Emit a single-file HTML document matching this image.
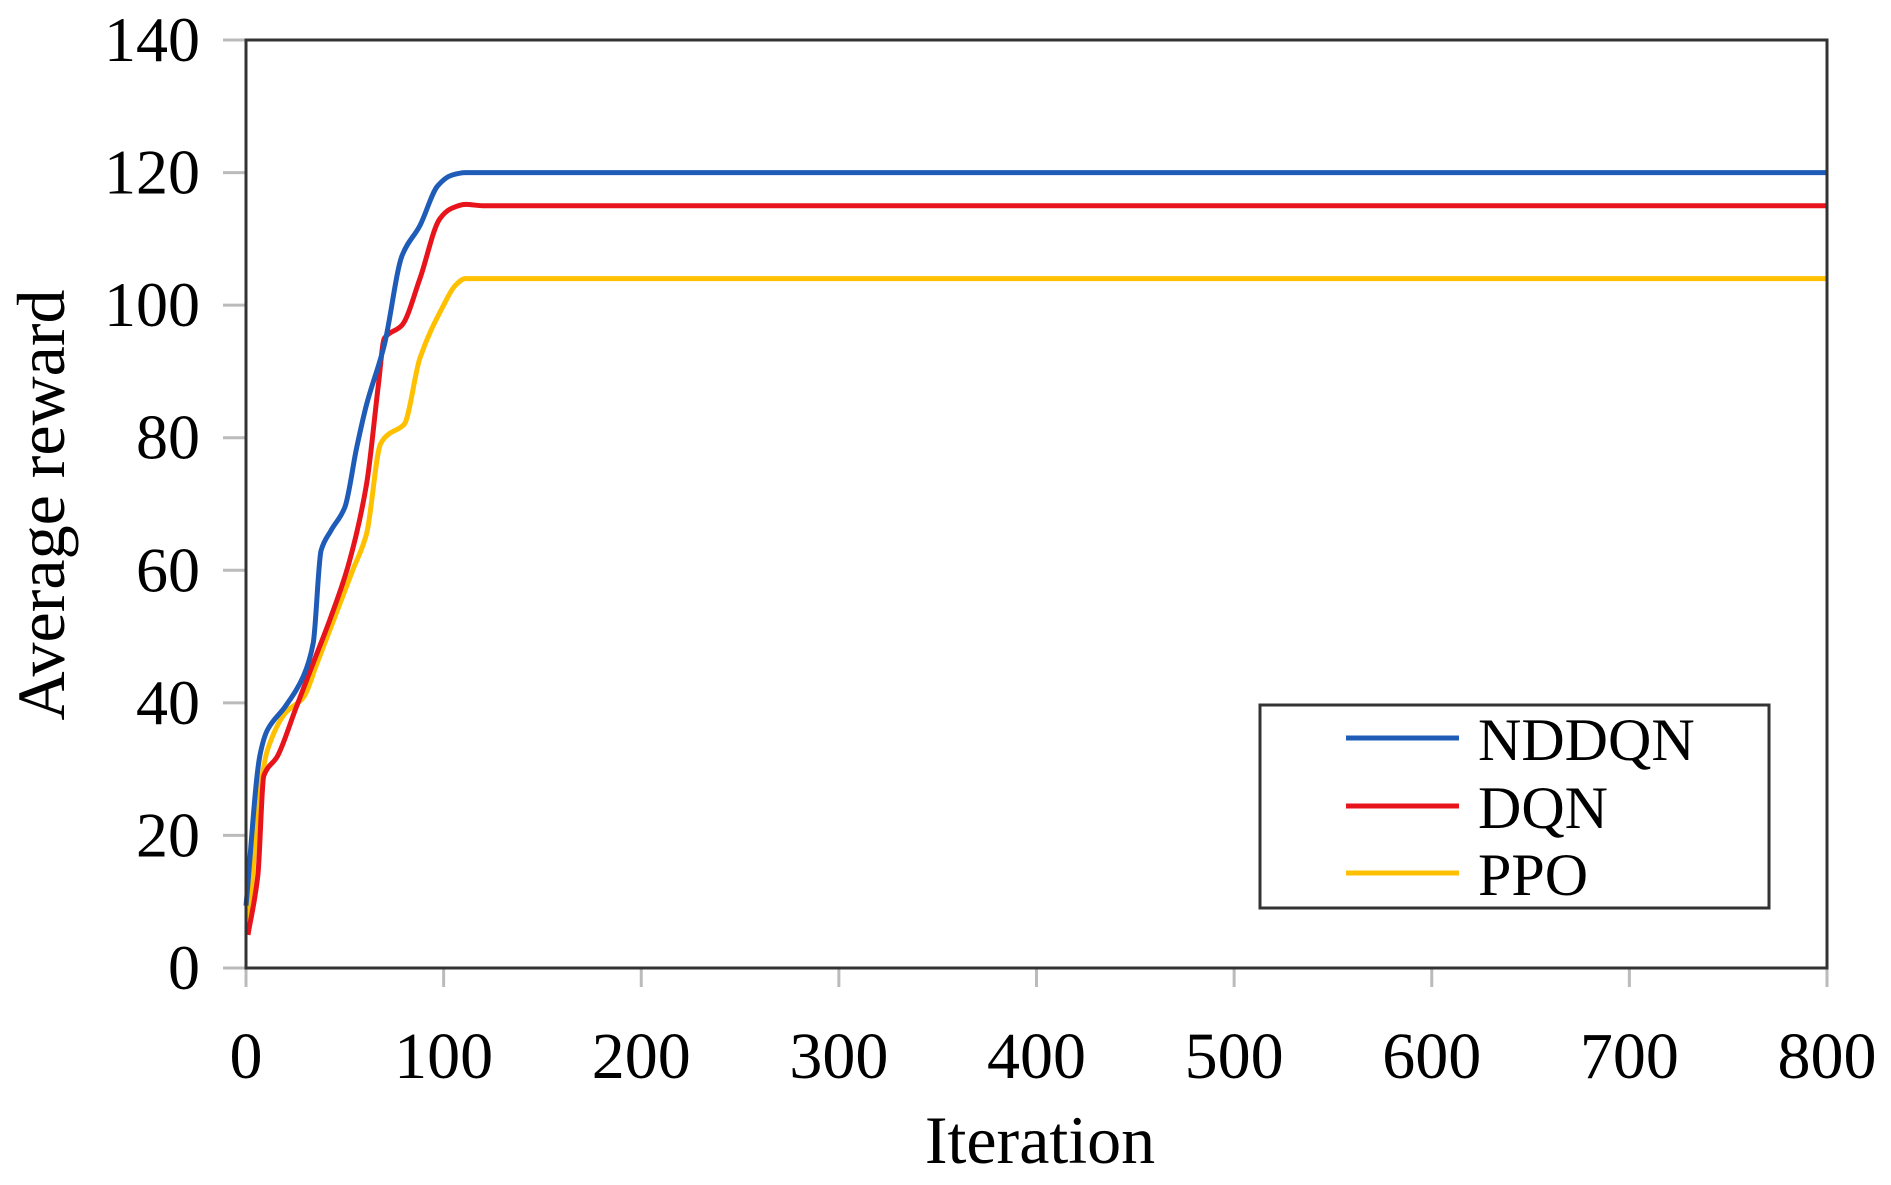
<!DOCTYPE html>
<html><head><meta charset="utf-8"><style>
html,body{margin:0;padding:0;background:#fff;}
svg{display:block;font-family:"Liberation Serif",serif;}
</style></head><body>
<svg id="chart" width="1891" height="1185" viewBox="0 0 1891 1185">
<g id="grid"></g><g id="series"></g><g id="axes"></g>
</svg>
<script>
const xTicks=[0,100,200,300,400,500,600,700,800];
const yTicks=[0,20,40,60,80,100,120,140];
const seriesNames=["NDDQN","DQN","PPO"];
const seriesColors=["#1f5cb8","#e8141c","#ffc000"];
const nddqnX=[0,7,11,20,29,34,38,43,50,56,61,70,79,88,97,104,111,120,800];
const nddqnY=[9.4,32,36,39.5,44,49,63,66,69.5,78.5,85,94,107.5,112,118,119.6,120,120,120];
const dqnX=[1,6,9,16,25,34,43,52,61,67,70,79,88,98,104,111,120,800];
const dqnY=[5,14,29,32,39,46,53,61,73,88,95,97,104,113,114.6,115.2,115,115];
const ppoX=[1,7,11,20,29,36,45,54,61,68,72,80,88,100,106,111,120,800];
const ppoY=[5,26.5,33,38.5,40.8,46,53,60,65.5,79,80.5,82,92,100,103,104,104,104];

const L=246,R=1827,T=40,B=968;
const sx=v=>L+(v-0)/(800-0)*(R-L);
const sy=v=>B-(v-0)/(140-0)*(B-T);
const NS="http://www.w3.org/2000/svg";
function mk(tag,attrs,parent){const e=document.createElementNS(NS,tag);for(const k in attrs)e.setAttribute(k,attrs[k]);parent.appendChild(e);return e;}
const axes=document.getElementById('axes'),ser=document.getElementById('series');

xTicks.forEach(t=>{
  const ln=mk('line',{x1:sx(t),x2:sx(t),y1:B,y2:B+19,stroke:'#bbb','stroke-width':3},axes);
  
  
  const tx=mk('text',{x:sx(t),y:1078,'text-anchor':'middle','font-size':66,fill:'#000'},axes);
  tx.textContent=t;
  
  
});
yTicks.forEach(t=>{
  const ln=mk('line',{x1:L-23,x2:L,y1:sy(t),y2:sy(t),stroke:'#bbb','stroke-width':3},axes);
  
  
  const tx=mk('text',{x:200,y:sy(t)+21,'text-anchor':'end','font-size':64,fill:'#000'},axes);
  tx.textContent=t;
  
  
});
const fr=mk('rect',{x:L,y:T,width:R-L,height:B-T,fill:'none',stroke:'#333','stroke-width':3},axes);



function path(xs,ys){
  const n=xs.length, d=[], m=new Array(n);
  for(let i=0;i<n-1;i++) d.push((ys[i+1]-ys[i])/(xs[i+1]-xs[i]));
  m[0]=d[0]; m[n-1]=d[n-2];
  for(let i=1;i<n-1;i++){
    if(d[i-1]*d[i]<=0) m[i]=0;
    else m[i]=2/(1/d[i-1]+1/d[i]);
  }
  let s='M'+sx(xs[0])+','+sy(ys[0]);
  for(let i=0;i<n-1;i++){
    const h=xs[i+1]-xs[i];
    s+=` C${sx(xs[i]+h/3)},${sy(ys[i]+m[i]*h/3)} ${sx(xs[i+1]-h/3)},${sy(ys[i+1]-m[i+1]*h/3)} ${sx(xs[i+1])},${sy(ys[i+1])}`;
  }
  return s;
}
const data=[[ppoX,ppoY,2],[dqnX,dqnY,1],[nddqnX,nddqnY,0]];
data.forEach(([xs,ys,i])=>{
  const pth=mk('path',{d:path(xs,ys),fill:'none',stroke:seriesColors[i],'stroke-width':5,'stroke-linejoin':'round'},ser);
  
  
});

const lg=mk('g',{},axes);


mk('rect',{x:1260,y:705,width:509,height:203,fill:'#fff',stroke:'#333','stroke-width':3},lg);
const ly=[738,806,873];
seriesNames.forEach((n,i)=>{
  const e=mk('line',{x1:1346,x2:1459,y1:ly[i],y2:ly[i],stroke:seriesColors[i],'stroke-width':5},lg);
  
  
  const t=mk('text',{x:1478,y:ly[i]+22,'font-size':60,fill:'#000'},lg);
  t.textContent=n;
  
  
});

const xt=mk('text',{x:1040,y:1163,'text-anchor':'middle','font-size':68,fill:'#000'},axes);
xt.textContent='Iteration';


const yt=mk('text',{x:0,y:0,'text-anchor':'middle','font-size':68,fill:'#000',transform:'translate(64,505) rotate(-90)'},axes);
yt.textContent='Average reward';


</script>
</body></html>
